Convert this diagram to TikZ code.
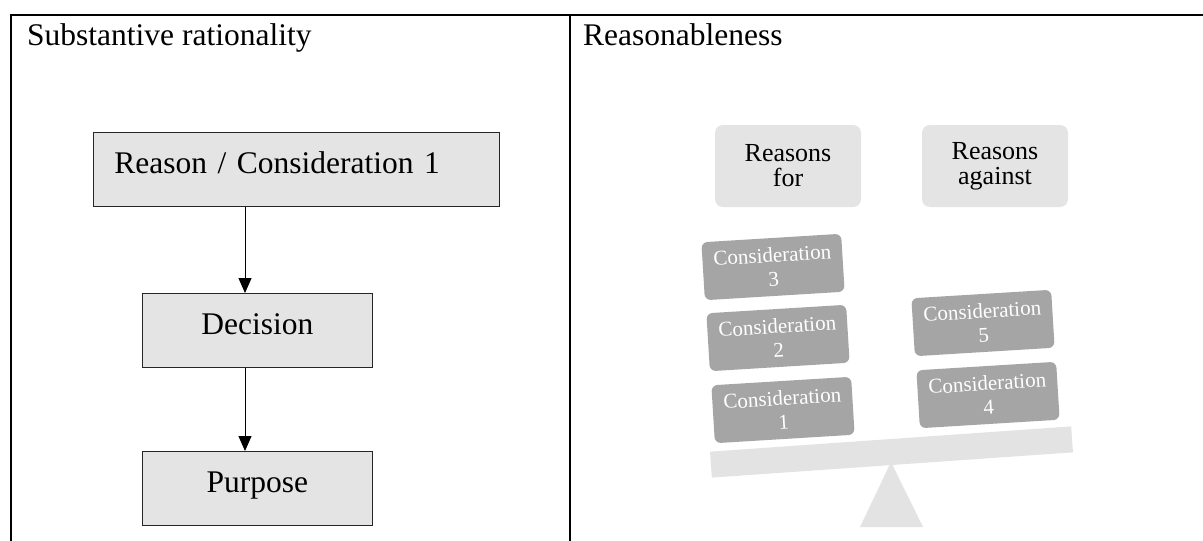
\documentclass[tikz,border=0pt]{standalone}
\usepackage{fontspec}
\setmainfont{Liberation Serif}
\usetikzlibrary{arrows.meta}
\definecolor{boxgray}{HTML}{E4E4E4}
\definecolor{stonegray}{HTML}{A5A5A5}
\definecolor{scalegray}{HTML}{E3E3E3}

\begin{document}
\begin{tikzpicture}[x=1pt,y=-1pt,
  rule/.style={line width=2pt, black},
  flowbox/.style={draw=black!85, line width=0.9pt, fill=boxgray, inner ysep=0pt,
    text height=41pt, text depth=33pt, font=\fontsize{31.5}{36}\selectfont, anchor=north west},
  flowarrow/.style={line width=0.9pt, -{Triangle[width=13pt,length=15pt]}},
  header/.style={font=\fontsize{31.5}{36}\selectfont, anchor=base west, inner sep=0pt},
  sidebox/.style={fill=boxgray, rounded corners=8pt, minimum width=146pt, minimum height=82pt,
    align=center, font=\fontsize{26}{25}\selectfont, inner sep=0pt},
  stone/.style={fill=stonegray, rounded corners=6pt, minimum width=140pt, minimum height=58pt,
    align=center, text=white, font=\fontsize{21}{24}\selectfont, inner sep=0pt, rotate=3.5},
]
\useasboundingbox (0,0) rectangle (1203,541);
\fill[white] (0,0) rectangle (1203,541);

% table rules
\draw[rule] (11,541) -- (11,15) -- (1203,15);
\draw[rule] (570,15) -- (570,541);

% column headings
\node[header] (h1) at (27,45) {Substantive rationality};
\node[header] (h2) at (583,45) {Reasonableness};

% left column: chain of boxes
\node[flowbox, inner xsep=21pt, text width=364pt, align=left] (reason) at (93,132) {Reason / Consideration 1};
\node[flowbox, inner xsep=0pt, text width=230pt, align=center] (decision) at (142,293) {Decision};
\node[flowbox, inner xsep=0pt, text width=230pt, align=center] (purpose) at (142,451) {Purpose};

\coordinate (ax) at (245,0);
\draw[flowarrow] (reason.south -| ax) -- (decision.north -| ax);
\draw[flowarrow] (decision.south -| ax) -- (purpose.north -| ax);

% right column: the balance
\node[sidebox] (for) at (788,166) {Reasons\\for};
\node[sidebox] (against) at (995,166) {Reasons\\against};

\fill[scalegray] (891,462) -- (923,527) -- (860,527) -- cycle;
\node[fill=scalegray, minimum width=362pt, minimum height=26pt, rotate=4, inner sep=0pt] (beam) at (891.5,452) {};

\node[stone] (c3) at (773,267) {Consideration\\3};
\node[stone] (c2) at (778,338) {Consideration\\2};
\node[stone] (c1) at (783,410) {Consideration\\1};
\node[stone] (c5) at (983,323) {Consideration\\5};
\node[stone] (c4) at (988,395) {Consideration\\4};
\end{tikzpicture}
\end{document}
